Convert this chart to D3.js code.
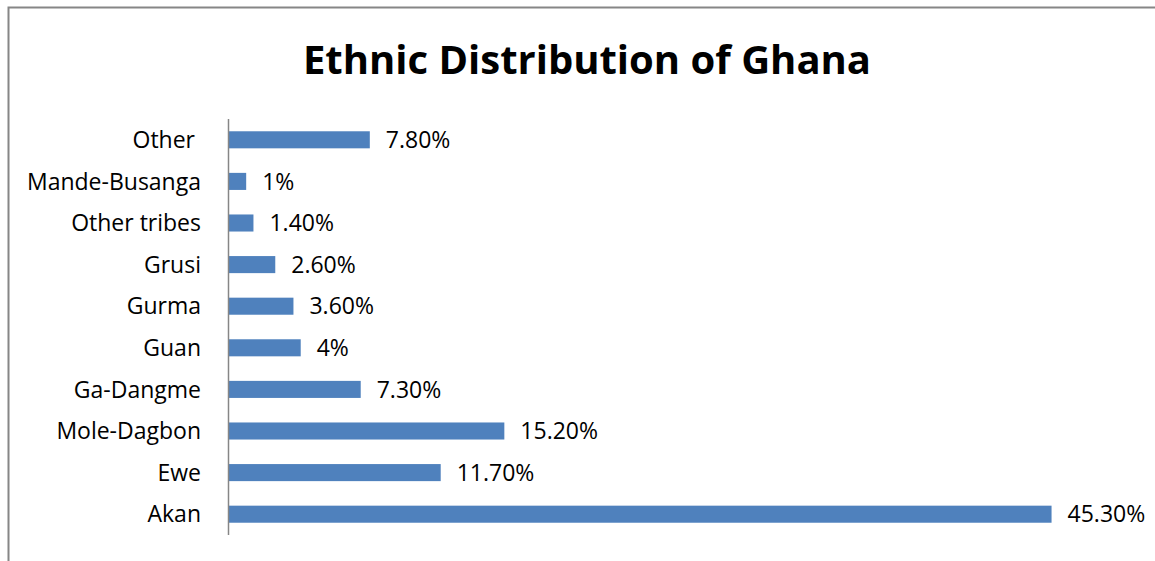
<!DOCTYPE html>
<html>
<head>
<meta charset="utf-8">
<script src="https://cdn.jsdelivr.net/npm/d3@7/dist/d3.min.js"></script>
<style>
  html, body { margin: 0; padding: 0; background: #fff; }
  svg { display: block; }
  text { font-family: "Open Sans", sans-serif; fill: #000; }
</style>
</head>
<body>
<svg id="chart" width="1155" height="561"></svg>
<script>
// Ethnic groups, listed top to bottom as drawn
const groups = ["Other ", "Mande-Busanga", "Other tribes", "Grusi", "Gurma", "Guan", "Ga-Dangme", "Mole-Dagbon", "Ewe", "Akan"];
// Share of population (%)
const shares = [7.8, 1, 1.4, 2.6, 3.6, 4, 7.3, 15.2, 11.7, 45.3];
// Data labels as printed next to each bar
const shareLabels = ["7.80%", "1%", "1.40%", "2.60%", "3.60%", "4%", "7.30%", "15.20%", "11.70%", "45.30%"];

const title = "Ethnic Distribution of Ghana";

const svg = d3.select("#chart");
const W = 1155, H = 561;

// Chart frame (left and top edges)
svg.append("path")
  .attr("d", `M8.5,${H} L8.5,7.5 L${W},7.5`)
  .attr("fill", "none")
  .attr("stroke", "#868686")
  .attr("stroke-width", 2);

const plot = { left: 228, right: 1137, top: 119, bottom: 535 };

const x = d3.scaleLinear().domain([0, 50]).range([plot.left, plot.right]);
const y = d3.scaleBand().domain(groups).range([plot.top, plot.bottom]).paddingInner(0.59).paddingOuter(0.295);

// Title
svg.append("text")
  .attr("x", 587)
  .attr("y", 74)
  .attr("text-anchor", "middle")
  .style("font-size", "40px")
  .style("font-weight", "bold")
  .text(title);

// Bars
const data = groups.map((g, i) => ({ g, v: shares[i], label: shareLabels[i] }));

svg.append("g").selectAll("rect")
  .data(data)
  .join("rect")
  .attr("x", x(0))
  .attr("y", d => y(d.g))
  .attr("width", d => x(d.v) - x(0))
  .attr("height", y.bandwidth())
  .attr("fill", "#4f81bd");

// Value labels
svg.append("g").selectAll("text")
  .data(data)
  .join("text")
  .attr("x", d => x(d.v) + 16)
  .attr("y", d => y(d.g) + y.bandwidth() / 2)
  .attr("dy", "0.36em")
  .style("font-size", "23px")
  .text(d => d.label);

// Category axis
const yAxis = d3.axisLeft(y).tickSize(0).tickPadding(27);
const ga = svg.append("g")
  .attr("transform", `translate(${plot.left},0)`)
  .call(yAxis);
ga.select(".domain")
  .attr("d", `M0.5,${plot.top}V${plot.bottom}`)
  .attr("stroke", "#868686")
  .attr("stroke-width", 1.5);
ga.selectAll(".tick text")
  .style("font-family", "'Open Sans', sans-serif")
  .style("font-size", "23px")
  .attr("fill", "#000")
  .attr("dy", "0.36em")
  .style("white-space", "pre");
</script>
</body>
</html>
